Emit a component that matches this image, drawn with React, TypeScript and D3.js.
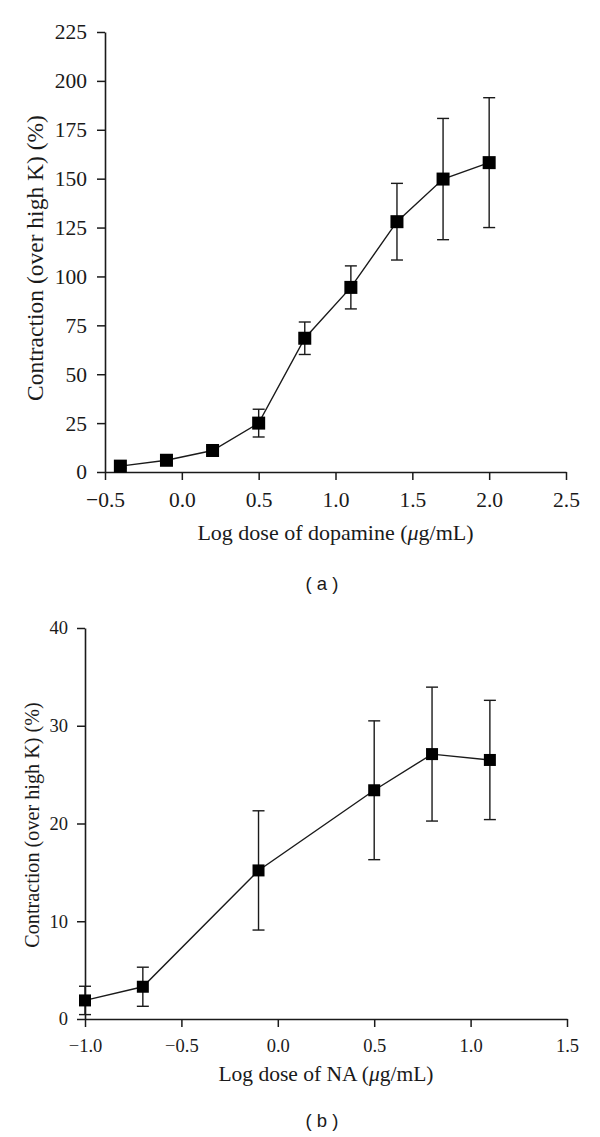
import { useRef, useEffect } from 'react';
import * as d3 from 'd3';

// Panel (a): dopamine
const doseA = [-0.4, -0.1, 0.2, 0.5, 0.8, 1.1, 1.4, 1.7, 2.0];
const meanA = [3, 6, 11, 25, 68.4, 94.4, 128, 149.8, 158.2];
const errA = [1, 1.5, 2, 7.1, 8.3, 11, 19.6, 31, 33.2];
const xTicksA = [-0.5, 0.0, 0.5, 1.0, 1.5, 2.0, 2.5];
const yTicksA = [0, 25, 50, 75, 100, 125, 150, 175, 200, 225];

// Panel (b): noradrenaline
const doseB = [-1.0, -0.7, -0.1, 0.5, 0.8, 1.1];
const meanB = [1.9, 3.3, 15.2, 23.4, 27.1, 26.5];
const errB = [1.45, 2.0, 6.1, 7.1, 6.85, 6.1];
const xTicksB = [-1.0, -0.5, 0.0, 0.5, 1.0, 1.5];
const yTicksB = [0, 10, 20, 30, 40];

const SERIF = '"Liberation Serif", "Times New Roman", serif';
const SANS = '"Liberation Sans", Arial, sans-serif';
const INK = '#1a1a1a';

interface PanelSpec {
  dose: number[];
  mean: number[];
  err: number[];
  xTicks: number[];
  yTicks: number[];
  left: number;
  right: number;
  top: number;
  bottom: number;
  tickFont: number;
  yPad: number;
  xLabel: string;
  xLabelFont: number;
  xLabelDy: number;
  yLabelX: number;
  yLabelY: number;
  yLabelFont: number;
  tag: string;
  tagY: number;
  marker: number;
}

function drawPanel(svg: d3.Selection<SVGSVGElement, unknown, null, undefined>, p: PanelSpec) {
  const x = d3
    .scaleLinear()
    .domain([p.xTicks[0], p.xTicks[p.xTicks.length - 1]])
    .range([p.left, p.right]);
  const y = d3
    .scaleLinear()
    .domain([p.yTicks[0], p.yTicks[p.yTicks.length - 1]])
    .range([p.bottom, p.top]);

  const g = svg.append('g');

  // Axes
  const xAxis = g
    .append('g')
    .attr('transform', `translate(0,${p.bottom})`)
    .call(
      d3.axisBottom(x).tickValues(p.xTicks).tickSize(8).tickSizeOuter(0).tickPadding(12).tickFormat(d3.format('.1f'))
    );
  const yAxis = g
    .append('g')
    .attr('transform', `translate(${p.left},0)`)
    .call(d3.axisLeft(y).tickValues(p.yTicks).tickSize(8).tickSizeOuter(0).tickPadding(p.yPad));

  [xAxis, yAxis].forEach((a) => {
    a.select('.domain').attr('stroke', INK).attr('stroke-width', 1.6);
    a.selectAll('.tick line').attr('stroke', INK).attr('stroke-width', 1.5);
    a.selectAll('.tick text')
      .attr('fill', INK)
      .attr('font-family', SERIF)
      .attr('font-size', p.tickFont);
  });

  // Axis titles
  g.append('text')
    .attr('x', (p.left + p.right) / 2)
    .attr('y', p.bottom + p.xLabelDy)
    .attr('text-anchor', 'middle')
    .attr('font-family', SERIF)
    .attr('font-size', p.xLabelFont)
    .attr('fill', INK)
    .html(p.xLabel);

  g.append('text')
    .attr('transform', `translate(${p.yLabelX},${p.yLabelY}) rotate(-90)`)
    .attr('text-anchor', 'middle')
    .attr('font-family', SERIF)
    .attr('font-size', p.yLabelFont)
    .attr('fill', INK)
    .text('Contraction (over high K) (%)');

  g.append('text')
    .attr('x', 322)
    .attr('y', p.tagY)
    .attr('text-anchor', 'middle')
    .attr('font-family', SANS)
    .attr('font-size', 18.5)
    .attr('fill', INK)
    .attr('xml:space', 'preserve')
    .text(p.tag);

  const pts = p.dose.map((d, i) => ({ d, m: p.mean[i], e: p.err[i] }));

  // Connecting line
  const line = d3
    .line<{ d: number; m: number }>()
    .x((v) => x(v.d))
    .y((v) => y(v.m));
  g.append('path')
    .datum(pts)
    .attr('d', line)
    .attr('fill', 'none')
    .attr('stroke', INK)
    .attr('stroke-width', 1.4);

  // Error bars
  const cap = 6;
  const eb = g.append('g').attr('stroke', INK).attr('stroke-width', 1.4);
  eb.selectAll('.stem')
    .data(pts)
    .join('line')
    .attr('x1', (v) => x(v.d))
    .attr('x2', (v) => x(v.d))
    .attr('y1', (v) => y(v.m + v.e))
    .attr('y2', (v) => y(v.m - v.e));
  eb.selectAll('.capTop')
    .data(pts)
    .join('line')
    .attr('x1', (v) => x(v.d) - cap)
    .attr('x2', (v) => x(v.d) + cap)
    .attr('y1', (v) => y(v.m + v.e))
    .attr('y2', (v) => y(v.m + v.e));
  eb.selectAll('.capBot')
    .data(pts)
    .join('line')
    .attr('x1', (v) => x(v.d) - cap)
    .attr('x2', (v) => x(v.d) + cap)
    .attr('y1', (v) => y(v.m - v.e))
    .attr('y2', (v) => y(v.m - v.e));

  // Square markers
  g.selectAll('.marker')
    .data(pts)
    .join('rect')
    .attr('x', (v) => x(v.d) - p.marker / 2)
    .attr('y', (v) => y(v.m) - p.marker / 2)
    .attr('width', p.marker)
    .attr('height', p.marker)
    .attr('fill', '#000');
}

export default function App() {
  const svgRef = useRef<SVGSVGElement>(null);

  useEffect(() => {
    if (!svgRef.current) return;
    const svg = d3.select(svgRef.current);
    svg.selectAll('*').remove();

    drawPanel(svg, {
      dose: doseA,
      mean: meanA,
      err: errA,
      xTicks: xTicksA,
      yTicks: yTicksA,
      left: 105,
      right: 566,
      top: 32,
      bottom: 472,
      tickFont: 21.5,
      yPad: 10,
      xLabel: 'Log dose of dopamine (<tspan font-style="italic">μ</tspan>g/mL)',
      xLabelFont: 22,
      xLabelDy: 68,
      yLabelX: 43,
      yLabelY: 258,
      yLabelFont: 23.5,
      tag: '( a )',
      tagY: 590,
      marker: 13,
    });

    drawPanel(svg, {
      dose: doseB,
      mean: meanB,
      err: errB,
      xTicks: xTicksB,
      yTicks: yTicksB,
      left: 85,
      right: 567,
      top: 628,
      bottom: 1019,
      tickFont: 18.5,
      yPad: 9,
      xLabel: 'Log dose of NA (<tspan font-style="italic">μ</tspan>g/mL)',
      xLabelFont: 21.5,
      xLabelDy: 62,
      yLabelX: 39,
      yLabelY: 825,
      yLabelFont: 20.2,
      tag: '( b )',
      tagY: 1127,
      marker: 12,
    });
  }, []);

  return (
    <div style={{ position: 'absolute', left: 0, top: 0 }}>
      <svg ref={svgRef} width={600} height={1137} style={{ display: 'block', background: '#fff' }} />
    </div>
  );
}
